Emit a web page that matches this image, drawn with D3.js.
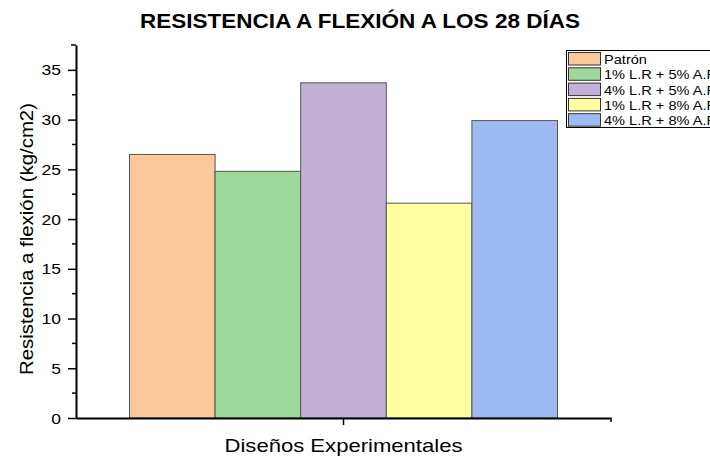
<!DOCTYPE html>
<html><head><meta charset="utf-8">
<script src="https://cdn.jsdelivr.net/npm/d3@7"></script>
<style>body{margin:0;background:#fff;}svg{display:block;font-family:"Liberation Sans",Arial,sans-serif;}</style>
</head><body>
<script>
const categories = ["Patrón", "1% L.R + 5% A.F", "4% L.R + 5% A.F", "1% L.R + 8% A.F", "4% L.R + 8% A.F"];
const values = [26.5, 24.8, 33.7, 21.6, 29.9];
const colors = ["#FBC899", "#9ED89D", "#C2B1D6", "#FFFF9F", "#9DBBF2"];
const yTicks = [0, 5, 10, 15, 20, 25, 30, 35];
const groupLabel = ["Diseños Experimentales"];

const W = 710, H = 462;
const svg = d3.select("body").append("svg").attr("width", W).attr("height", H);
const x0 = 76, x1 = 611, yTop = 45, yBot = 418;
const y = d3.scaleLinear().domain([0, 37.5]).range([yBot, yTop]);
const xg = d3.scaleBand().domain(groupLabel).range([x0, x1]).paddingInner(0).paddingOuter(0.125);
const xb = d3.scaleBand().domain(categories).range([xg(groupLabel[0]), xg(groupLabel[0]) + xg.bandwidth()]);

function stretch(sel, f) {
  sel.each(function() {
    const L = this.getComputedTextLength();
    d3.select(this).attr("textLength", L * f).attr("lengthAdjust", "spacingAndGlyphs");
  });
}

svg.selectAll("rect.bar").data(categories).join("rect").attr("class","bar")
  .attr("x", d => xb(d)).attr("width", xb.bandwidth())
  .attr("y", (d,i) => y(values[i])).attr("height", (d,i) => yBot - y(values[i]))
  .attr("fill", (d,i) => colors[i]).attr("stroke", "#555").attr("stroke-width", 1);

// y axis
const yAxis = d3.axisLeft(y).tickValues(yTicks).tickSize(8).tickSizeOuter(0).tickPadding(7);
const gy = svg.append("g").attr("transform", `translate(${x0},0)`).call(yAxis);
gy.select(".domain").attr("stroke", "#000").attr("stroke-width", 2);
gy.selectAll(".tick line").attr("stroke", "#000").attr("stroke-width", 1.5);
gy.selectAll(".tick text").attr("font-size", 14).attr("fill", "#000").attr("font-family", "Liberation Sans, Arial, sans-serif").attr("dy", "0.36em");
stretch(gy.selectAll(".tick text"), 1.25);
const minor = d3.range(2.5, 37.5, 5);
gy.selectAll(".minor").data(minor).join("line").attr("class","minor")
  .attr("x1", -4).attr("x2", 0).attr("y1", d => y(d)).attr("y2", d => y(d))
  .attr("stroke", "#000").attr("stroke-width", 1.5);
gy.append("line").attr("x1", -5).attr("x2", 0).attr("y1", yTop).attr("y2", yTop).attr("stroke","#000").attr("stroke-width",1.5);

// x axis
const xAxis = d3.axisBottom(xg).tickSize(7).tickSizeOuter(0).tickFormat("");
const gx = svg.append("g").attr("transform", `translate(0,${yBot})`).call(xAxis);
gx.select(".domain").attr("stroke", "#000").attr("stroke-width", 2);
gx.selectAll(".tick line").attr("stroke", "#000").attr("stroke-width", 1.5);
gx.append("line").attr("x1", x1).attr("x2", x1).attr("y1", 0).attr("y2", 4).attr("stroke","#000").attr("stroke-width",1.5);

// labels
const xl = svg.append("text").attr("x", xg(groupLabel[0]) + xg.bandwidth()/2).attr("y", 452)
  .attr("text-anchor","middle").attr("font-size", 19).attr("fill","#000").text(groupLabel[0]);
xl.attr("textLength", 238).attr("lengthAdjust","spacingAndGlyphs");
const yl = svg.append("text").attr("transform", `translate(33,239) rotate(-90)`)
  .attr("text-anchor","middle").attr("font-size", 18).attr("fill","#000").text("Resistencia a flexión (kg/cm2)");
yl.attr("textLength", 272).attr("lengthAdjust","spacingAndGlyphs");
const tl = svg.append("text").attr("x", 360).attr("y", 28).attr("text-anchor","middle")
  .attr("font-size", 21).attr("font-weight","bold").attr("fill","#000").text("RESISTENCIA A FLEXIÓN A LOS 28 DÍAS");
tl.attr("textLength", 440).attr("lengthAdjust","spacingAndGlyphs");

// legend
const lg = svg.append("g");
lg.append("rect").attr("x", 566.5).attr("y", 50.5).attr("width", 160).attr("height", 77)
  .attr("fill","#fff").attr("stroke","#000").attr("stroke-width",1);
const rows = lg.selectAll("g.item").data(categories).join("g").attr("class","item")
  .attr("transform", (d,i) => `translate(568,${52.5 + i*15.3})`);
rows.append("rect").attr("x",0.5).attr("y",0).attr("width",32).attr("height",12.5)
  .attr("fill",(d,i)=>colors[i]).attr("stroke","#333").attr("stroke-width",1);
const lt = rows.append("text").attr("x",36).attr("y",11.5).attr("font-size",13.5).attr("fill","#000").text(d=>d);
stretch(lt, 1.08);
</script>
</body></html>
